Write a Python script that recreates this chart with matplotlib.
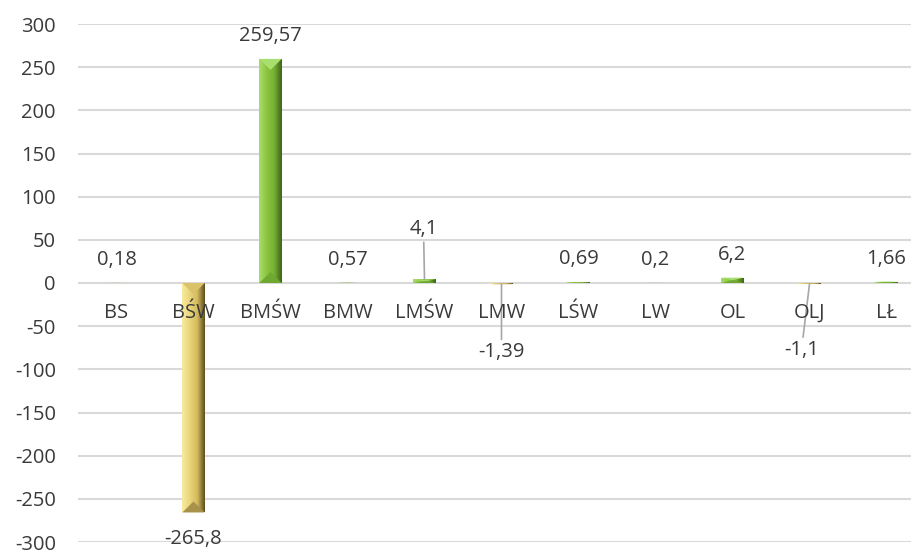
import numpy as np
import matplotlib.pyplot as plt
from matplotlib.colors import LinearSegmentedColormap
from matplotlib.patches import Polygon

categories = ['BS', 'BŚW', 'BMŚW', 'BMW', 'LMŚW', 'LMW', 'LŚW', 'LW', 'OL', 'OLJ', 'LŁ']
values = [0.18, -265.8, 259.57, 0.57, 4.1, -1.39, 0.69, 0.2, 6.2, -1.1, 1.66]
value_labels = ['0,18', '-265,8', '259,57', '0,57', '4,1', '-1,39', '0,69', '0,2', '6,2', '-1,1', '1,66']
y_ticks = [-300, -250, -200, -150, -100, -50, 0, 50, 100, 150, 200, 250, 300]

# labels moved away from their bars (offset in pixels, with a leader line)
moved = {'LMŚW': (-1, 50), 'LMW': (0, -68), 'OLJ': (-8, -66)}

TXT = '#3a3a3a'
GRID = '#d9d9d9'
PX = 0.72  # points per pixel at dpi 100
FS = 14.5

green = dict(side=['#a9dc6c', '#8cc63f', '#76b033', '#3f6419'], tip='#a8df6e', base='#6ea830')
gold = dict(side=['#f9ea9e', '#ead57c', '#d3bb5e', '#5e4f20'], tip='#a8914a', base='#d9c36a')

plt.rcParams['font.family'] = ['Open Sans', 'DejaVu Sans']

fig = plt.figure(figsize=(9.12, 5.5), dpi=100)
ax = fig.add_axes([78 / 912, 8 / 550, 847 / 912, 518 / 550])

x = np.arange(len(categories))
w = 0.29
ax.set_xlim(-0.5, len(categories) - 0.5)
ax.set_ylim(-300, 300)

bars = ax.bar(x, values, width=w, color='none', zorder=3)

# bevel depth: about half the bar width in pixels
units_per_px = 600 / 518
bevel = 11 * units_per_px

for bar, v, cat in zip(bars, values, categories):
    pal = gold if v < 0 else green
    x0, x1 = bar.get_x(), bar.get_x() + bar.get_width()
    c = (x0 + x1) / 2
    lo, hi = sorted([0, v])
    cmap = LinearSegmentedColormap.from_list('g', pal['side'])
    img = ax.imshow(np.linspace(0, 1, 64).reshape(1, -1), cmap=cmap, aspect='auto',
                    extent=(x0, x1, lo, hi), zorder=3, interpolation='bilinear')
    img.set_clip_path(bar)
    d = min(bevel, abs(v) / 2)
    sgn = 1 if v >= 0 else -1
    # end cap triangle
    ax.add_patch(Polygon([(x0, v), (x1, v), (c, v - sgn * d)], closed=True,
                         facecolor=pal['tip'], edgecolor='none', zorder=4))
    # base triangle
    ax.add_patch(Polygon([(x0, 0), (x1, 0), (c, sgn * d)], closed=True,
                         facecolor=pal['base'], edgecolor='none', zorder=4))

ax.set_xlim(-0.5, len(categories) - 0.5)
ax.set_ylim(-300, 300)

# value labels
for i, (v, lab, cat) in enumerate(zip(values, value_labels, categories)):
    if cat in moved:
        dx, dy = moved[cat]
        ax.annotate(lab, (i, v), xytext=(dx * PX, dy * PX), textcoords='offset points',
                    ha='center', va='center', fontsize=FS, color=TXT,
                    arrowprops=dict(arrowstyle='-', color='#a6a6a6', lw=1.2,
                                    shrinkA=0, shrinkB=0), zorder=6)
    else:
        dy = 23 if v >= 0 else -27
        ax.annotate(lab, (i, v), xytext=(0, dy * PX), textcoords='offset points',
                    ha='center', va='center', fontsize=FS, color=TXT, zorder=6)

# category labels just below the zero line
for i, cat in enumerate(categories):
    ax.annotate(cat, (i, 0), xytext=(0, -30 * PX), textcoords='offset points',
                ha='center', va='center', fontsize=FS, color=TXT, zorder=6)

ax.set_xticks([])
ax.set_yticks(y_ticks)
ax.set_yticklabels([str(t) for t in y_ticks])
ax.tick_params(axis='y', length=0, pad=16, labelsize=FS, labelcolor=TXT)
ax.grid(axis='y', color=GRID, lw=1.5, zorder=0)
ax.set_axisbelow(True)
for s in ax.spines.values():
    s.set_visible(False)

fig.savefig('out.png', dpi=100)
